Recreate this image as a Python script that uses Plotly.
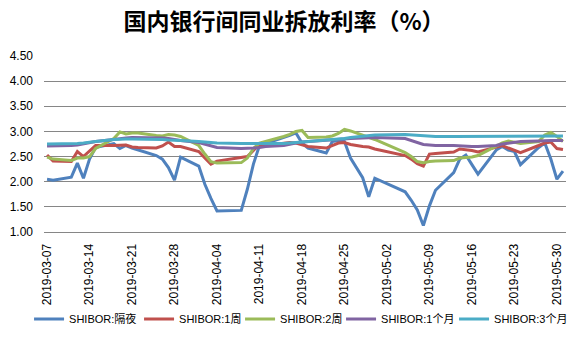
import plotly.graph_objects as go

dates = [
    "2019-03-07", "2019-03-08", "2019-03-11", "2019-03-12", "2019-03-13", "2019-03-14", "2019-03-15",
    "2019-03-18", "2019-03-19", "2019-03-20", "2019-03-21", "2019-03-22", "2019-03-25", "2019-03-26",
    "2019-03-27", "2019-03-28", "2019-03-29",
    "2019-04-01", "2019-04-02", "2019-04-03", "2019-04-04", "2019-04-08", "2019-04-09", "2019-04-10",
    "2019-04-11", "2019-04-12", "2019-04-15", "2019-04-16", "2019-04-17", "2019-04-18", "2019-04-19",
    "2019-04-22", "2019-04-23", "2019-04-24", "2019-04-25", "2019-04-26", "2019-04-28", "2019-04-29",
    "2019-04-30",
    "2019-05-05", "2019-05-06", "2019-05-07", "2019-05-08", "2019-05-09", "2019-05-10", "2019-05-13",
    "2019-05-14", "2019-05-15", "2019-05-16", "2019-05-17", "2019-05-20", "2019-05-21", "2019-05-22",
    "2019-05-23", "2019-05-24", "2019-05-27", "2019-05-28", "2019-05-29", "2019-05-30", "2019-05-31",
]

overnight = [
    2.05, 2.03, 2.09, 2.37, 2.07, 2.45, 2.68, 2.76, 2.66, 2.72, 2.67, 2.63, 2.52, 2.45, 2.28, 2.03, 2.49,
    2.31, 1.95, 1.67, 1.42, 1.43, 1.85, 2.35, 2.72, 2.76, 2.87, 2.92, 2.97, 2.77, 2.67, 2.57, 2.80, 2.82,
    2.80, 2.47, 2.08, 1.70, 2.07,
    1.80, 1.63, 1.44, 1.13, 1.52, 1.83, 2.18, 2.45, 2.53, 2.34, 2.15, 2.63, 2.70, 2.63, 2.60, 2.34, 2.68,
    2.77, 2.45, 2.05, 2.21,
]

week1 = [
    2.53, 2.41, 2.40, 2.60, 2.50, 2.62, 2.72, 2.72, 2.72, 2.73, 2.69, 2.68, 2.67, 2.71, 2.79, 2.70, 2.70,
    2.60, 2.47, 2.35, 2.41, 2.48, 2.50, 2.62, 2.75, 2.72, 2.76, 2.78, 2.77, 2.73, 2.70, 2.67, 2.72, 2.77,
    2.78, 2.74, 2.70, 2.69, 2.65,
    2.52, 2.45, 2.36, 2.31, 2.55, 2.56, 2.59, 2.65, 2.64, 2.62, 2.59, 2.68, 2.72, 2.67, 2.62, 2.58, 2.72,
    2.77, 2.79, 2.66, 2.64,
]

week2 = [
    2.49, 2.45, 2.42, 2.47, 2.47, 2.50, 2.66, 2.86, 2.99, 2.95, 2.97, 2.97, 2.92, 2.91, 2.94, 2.93, 2.90,
    2.72, 2.55, 2.40, 2.37, 2.38, 2.47, 2.66, 2.77, 2.80, 2.90, 2.94, 3.00, 3.02, 2.88, 2.89, 2.91, 2.96,
    3.04, 3.01, 2.92, 2.88, 2.84,
    2.58, 2.50, 2.40, 2.38, 2.40, 2.41, 2.42, 2.47, 2.48, 2.49, 2.52, 2.70, 2.77, 2.81, 2.78, 2.76, 2.80,
    2.93, 2.98, 2.90, 2.80,
]

month1 = [
    2.71, 2.71, 2.72, 2.73, 2.75, 2.77, 2.80, 2.84, 2.86, 2.87, 2.88, 2.88, 2.88, 2.87, 2.86, 2.84, 2.82,
    2.78, 2.75, 2.71, 2.68, 2.66, 2.66, 2.67, 2.68, 2.70, 2.72, 2.75, 2.77, 2.79, 2.80, 2.82, 2.83, 2.84,
    2.85, 2.86, 2.87, 2.88, 2.88,
    2.86, 2.82, 2.78, 2.74, 2.73, 2.72, 2.72, 2.71, 2.71, 2.70, 2.70, 2.72, 2.75, 2.77, 2.79, 2.80, 2.81,
    2.82, 2.82, 2.82, 2.82,
]

month3 = [
    2.75, 2.75, 2.76, 2.76, 2.77, 2.78, 2.80, 2.84, 2.85, 2.85, 2.85, 2.85, 2.84, 2.84, 2.83, 2.83, 2.82,
    2.80, 2.79, 2.78, 2.77, 2.76, 2.76, 2.75, 2.75, 2.75, 2.76, 2.77, 2.78, 2.79, 2.80, 2.82, 2.83, 2.85,
    2.86, 2.88, 2.91, 2.92, 2.93,
    2.94, 2.93, 2.92, 2.91, 2.90, 2.90, 2.90, 2.90, 2.90, 2.90, 2.90, 2.90, 2.90, 2.90, 2.90, 2.90, 2.90,
    2.90, 2.91, 2.91, 2.91,
]

series_names = ["SHIBOR:隔夜", "SHIBOR:1周", "SHIBOR:2周", "SHIBOR:1个月", "SHIBOR:3个月"]
series_values = [overnight, week1, week2, month1, month3]
series_colors = ["#4F81BD", "#C0504D", "#9BBB59", "#8064A2", "#4BACC6"]
legend_widths = [65, 56, 56, 68, 68]

y_ticks = [1.0, 1.5, 2.0, 2.5, 3.0, 3.5, 4.0, 4.5]
title_text = "国内银行间同业拆放利率（%）"

fig = go.Figure()
for name, vals, col, lw in zip(series_names, series_values, series_colors, legend_widths):
    fig.add_trace(go.Scatter(
        x=dates, y=vals, name=name, mode="lines",
        line=dict(color=col, width=3),
        legendwidth=lw,
    ))

fig.update_layout(
    width=576, height=344,
    margin=dict(l=42, r=10, t=56, b=109),
    paper_bgcolor="white", plot_bgcolor="white",
    title=dict(
        text="<b>" + title_text + "</b>",
        x=284 / 576, xanchor="center", xref="container",
        y=1 - 22 / 344, yanchor="middle", yref="container",
        font=dict(family="Noto Sans CJK SC", size=23, color="#000000"),
    ),
    font=dict(family="Liberation Sans", size=12, color="#000000"),
    showlegend=True,
    legend=dict(
        orientation="h",
        x=(27 - 42) / 524, xanchor="left", xref="paper",
        y=-(324 - 235.3) / 179.3, yanchor="middle", yref="paper",
        font=dict(family="Liberation Sans, Noto Sans CJK SC", size=11, color="#000000"),
        itemwidth=30,
        tracegroupgap=0,
    ),
)

fig.update_xaxes(
    type="date",
    range=["2019-03-06 12:00", "2019-05-31 12:00"],
    tick0="2019-03-07", dtick=7 * 86400000,
    tickformat="%Y-%m-%d", tickangle=-90,
    showgrid=False, zeroline=False,
    showline=True, linecolor="#868686", linewidth=1,
    ticks="", ticklabelstandoff=6,
    tickfont=dict(family="Liberation Sans", size=12, color="#000000"),
)

fig.update_yaxes(
    range=[1.0, 4.5],
    tickvals=y_ticks,
    ticktext=["%.2f" % v for v in y_ticks],
    showgrid=True, gridcolor="#868686", gridwidth=1,
    zeroline=False, showline=False, ticks="",
    ticklabelstandoff=10,
    tickfont=dict(family="Liberation Sans", size=12, color="#000000"),
)

fig.write_html("out.html")
